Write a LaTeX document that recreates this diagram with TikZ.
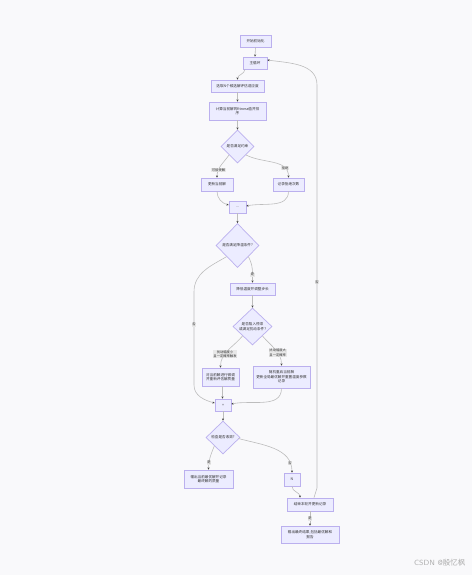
\documentclass[tikz,border=0pt]{standalone}
\usepackage{fontspec}
\newfontfamily\cjk{Noto Sans CJK SC}
\usetikzlibrary{shapes.geometric,arrows.meta}
\definecolor{bgc}{HTML}{F9F9FB}
\definecolor{nfill}{HTML}{ECECFF}
\definecolor{nline}{HTML}{BBB0EE}
\definecolor{eline}{HTML}{BDBDBD}
\definecolor{tcol}{HTML}{333333}
\definecolor{lfill}{HTML}{E8E8E8}
\tikzset{
  box/.style={draw=nline,fill=nfill,line width=0.7pt,rectangle,inner sep=0pt,align=center,
    font=\cjk\fontsize{3.6}{4.6}\selectfont,text=tcol},
  dia/.style={draw=nline,fill=nfill,line width=0.7pt,diamond,aspect=1,inner sep=0pt,align=center,
    font=\cjk\fontsize{3.6}{4.6}\selectfont,text=tcol},
  edge/.style={draw=eline,line width=0.6pt,-{Stealth[length=2.2pt,width=2pt,color=black!75]}},
  elabel/.style={fill=lfill,inner sep=0.6pt,align=center,font=\cjk\fontsize{3.3}{4.2}\selectfont,text=tcol},
}
\begin{document}
\begin{tikzpicture}[x=1pt,y=-1pt]
\useasboundingbox (0,0) rectangle (472,575);
\fill[bgc] (0,0) rectangle (472,575);

\node[box,minimum width=31pt,minimum height=12pt] (A) at (255.5,41) {开始初始化};
\node[box,minimum width=24pt,minimum height=12pt] (B) at (255,63) {主循环};
\node[box,minimum width=53pt,minimum height=12pt] (C) at (237.5,86) {选取N个候选解评估适应度};
\node[box,minimum width=57pt,minimum height=18pt] (D) at (237.5,111) {计算当前解的fitness值并排\\序};
\node[dia,minimum width=33pt,minimum height=33pt] (D1) at (237.5,146.5) {是否满足约束};
\node[box,minimum width=32pt,minimum height=13pt] (E) at (217,184.5) {更新当前解};
\node[box,minimum width=31pt,minimum height=13pt] (F) at (288.5,184.5) {记录拒绝次数};
\node[box,minimum width=17pt,minimum height=12pt] (G) at (237.5,207) {...};
\node[dia,minimum width=43pt,minimum height=44pt] (D2) at (237.5,245.5) {是否满足降温条件?};
\node[box,minimum width=45pt,minimum height=12pt] (H) at (252.5,289) {降低温度并调整步长};
\node[dia,minimum width=39pt,minimum height=37pt] (D3) at (252.5,326.5) {是否陷入停滞\\或满足扰动条件?};
\node[box,minimum width=37pt,minimum height=18pt] (I) at (220.5,377) {对当前解进行微调\\并重新评估解质量};
\node[box,minimum width=57pt,minimum height=22pt] (J) at (281.5,377) {随机重启当前解\\更新全局最优解并重置温度参数\\记录};
\node[box,minimum width=16pt,minimum height=12pt] (K) at (223,405) {+};
\node[dia,minimum width=34pt,minimum height=33pt] (D4) at (223,437.5) {检查是否收敛?};
\node[box,minimum width=49pt,minimum height=18pt] (L) at (208.5,479) {输出当前最优解并记录\\最终解的质量};
\node[box,minimum width=16pt,minimum height=13pt] (M) at (292,479.5) {N};
\node[box,minimum width=46pt,minimum height=13pt] (N) at (310,504.5) {结束本轮并更新记录};
\node[box,minimum width=58pt,minimum height=17pt] (O) at (310,534.5) {输出最终结果,包括最优解和\\报告};

\node[font=\sffamily\fontsize{7.5}{8}\selectfont,text=black!32,anchor=east] (W) at (469,563) {CSDN @{\cjk 殷忆枫}};

\draw[edge] (A.south) -- (B.north);
\draw[edge] ([xshift=-10pt]B.south) to[out=-95,in=90] (C.north);
\draw[edge] (C.south) -- (D.north);
\draw[edge] (D.south) -- (D1.north);
\draw[edge] (D1.south west) to[out=-125,in=90] node[elabel,pos=0.7] {可接受解} (E.north);
\draw[edge] (D1.south east) to[out=-28,in=90] node[elabel,pos=0.78] {拒绝} (F.north);
\draw[edge] (E.south) to[out=-90,in=165] ([yshift=2pt]G.west);
\draw[edge] (F.south) to[out=-90,in=12] ([yshift=1pt]G.east);
\draw[edge] (G.south) -- (D2.north);
\draw[edge] (D2.south east) to[out=-62,in=90] node[elabel,pos=0.72] {是} (H.north);
\draw[edge] (D2.south west) to[out=-150,in=90] (194,292) -- node[elabel,pos=0.35] {否} (194,385) to[out=-90,in=165] ([yshift=2pt]K.west);
\draw[edge] (H.south) -- (D3.north);
\draw[edge] (D3.south west) to[out=-130,in=90] node[elabel,pos=0.62] {扰动幅度小\\且一定概率触发} (I.north);
\draw[edge] (D3.south east) to[out=-50,in=90] node[elabel,pos=0.62] {扰动幅度大\\且一定概率} (J.north);
\draw[edge] ([xshift=2pt]I.south) -- ([xshift=-0.5pt]K.north);
\draw[edge] (J.south) to[out=-90,in=12] ([yshift=1pt]K.east);
\draw[edge] (K.south) -- (D4.north);
\draw[edge] (D4.south west) to[out=-112,in=90] node[elabel,pos=0.72] {是} (L.north);
\draw[edge] ([shift={(-2pt,-1pt)}]D4.east) to[out=-15,in=90] node[elabel,pos=0.85] {否} (M.north);
\draw[edge] (M.south) to[out=-90,in=90] ([xshift=-10pt]N.north);
\draw[edge] (N.south) -- node[elabel] {是} (O.north);
\draw[edge] ([xshift=4pt]N.north) to[out=90,in=-90] (317,488) -- node[elabel,pos=0.51] {否} (317,85) to[out=90,in=-8] ([yshift=3pt]B.east);
\end{tikzpicture}
\end{document}
